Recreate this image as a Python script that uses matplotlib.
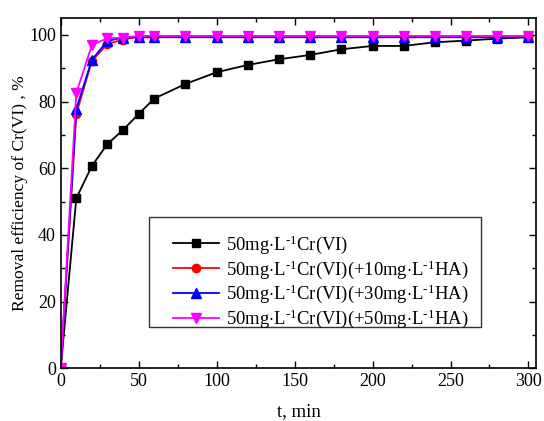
import numpy as np
import matplotlib
matplotlib.use("Agg")
import matplotlib.pyplot as plt
from matplotlib.patches import Rectangle
from matplotlib.ticker import MultipleLocator

plt.rcParams['font.family'] = ['Liberation Serif', 'DejaVu Serif']
plt.rcParams['mathtext.fontset'] = 'custom'
plt.rcParams['mathtext.rm'] = 'Liberation Serif'
plt.rcParams['mathtext.it'] = 'Liberation Serif:italic'

# sampling times (min)
t = [0, 10, 20, 30, 40, 50, 60, 80, 100, 120, 140, 160, 180, 200, 220, 240, 260, 280, 300]

# removal efficiency (%)
cr_only = [0, 51, 60.7, 67.3, 71.5, 76.3, 80.9, 85.3, 88.8, 91, 92.7, 94, 95.7,
           96.7, 96.7, 97.8, 98.3, 98.9, 99.3]
cr_ha10 = [0, 76.3, 92.2, 97.3, 98.6, 99.5, 99.6, 99.6, 99.6, 99.6, 99.6, 99.6, 99.6,
           99.6, 99.6, 99.6, 99.6, 99.6, 99.6]
cr_ha30 = [0, 77.8, 92.6, 98.2, 99.2, 99.3, 99.3, 99.3, 99.3, 99.3, 99.3, 99.3, 99.3,
           99.3, 99.3, 99.3, 99.3, 99.3, 99.3]
cr_ha50 = [0, 82.6, 97.0, 99.0, 99.2, 99.7, 99.7, 99.7, 99.7, 99.7, 99.7, 99.7, 99.7,
           99.7, 99.7, 99.7, 99.7, 99.7, 99.7]

labels = [r'50mg$\cdot$L$^{\text{-1}}$Cr(VI)',
          r'50mg$\cdot$L$^{\text{-1}}$Cr(VI)(+10mg$\cdot$L$^{\text{-1}}$HA)',
          r'50mg$\cdot$L$^{\text{-1}}$Cr(VI)(+30mg$\cdot$L$^{\text{-1}}$HA)',
          r'50mg$\cdot$L$^{\text{-1}}$Cr(VI)(+50mg$\cdot$L$^{\text{-1}}$HA)']

fig = plt.figure(figsize=(5.44, 4.21), dpi=100)
ax = fig.add_axes([0.1116, 0.1253, 0.8742, 0.8313])

ax.plot(t, cr_only, '-s', color='black', lw=1.3, ms=5.5, label=labels[0])
ax.plot(t, cr_ha10, '-o', color='red', lw=1.3, ms=6, label=labels[1])
ax.plot(t, cr_ha30, '-^', color='blue', lw=1.3, ms=7, label=labels[2])
ax.plot(t, cr_ha50, '-v', color='magenta', lw=1.3, ms=7, label=labels[3])

ax.set_xlim(0, 305)
ax.set_ylim(0, 105)
ax.xaxis.set_major_locator(MultipleLocator(50))
ax.xaxis.set_minor_locator(MultipleLocator(25))
ax.yaxis.set_major_locator(MultipleLocator(20))
ax.yaxis.set_minor_locator(MultipleLocator(10))
ax.tick_params(which='both', direction='in', top=True, right=True, labelsize=13, width=1)
ax.tick_params(which='major', length=5)
ax.tick_params(which='minor', length=3)
for s in ax.spines.values():
    s.set_linewidth(1.2)

ax.set_xlabel('t, min', fontsize=13.5, labelpad=9)
ax.set_ylabel('Removal efficiency of Cr(VI) , %', fontsize=12.6, labelpad=1)

# legend box
ax.add_patch(Rectangle((0.186, 0.117), 0.697, 0.316, transform=ax.transAxes,
                       fill=False, edgecolor='#333333', lw=1.0, zorder=5))
ax.legend(loc='lower left', bbox_to_anchor=(0.228, 0.098), frameon=False,
          fontsize=13.4, handlelength=2.5, handletextpad=0.35, labelspacing=0.12,
          borderpad=0.2, borderaxespad=0)

fig.savefig('out.png', dpi=100)
